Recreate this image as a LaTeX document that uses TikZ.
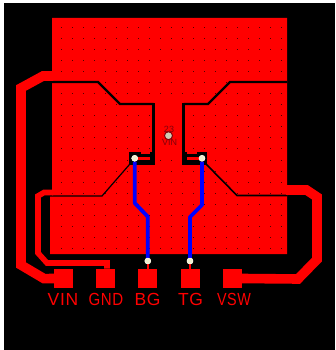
\documentclass[tikz,border=0pt]{standalone}
\usepackage{fontspec}
\setmainfont{Liberation Sans}
\newfontfamily\padfont[LetterSpace=4]{Liberation Sans}
\definecolor{pcbred}{RGB}{255,0,0}
\definecolor{pcbblue}{RGB}{0,0,255}
\definecolor{pcbdark}{RGB}{130,0,10}
\definecolor{viapale}{RGB}{240,238,205}
\tikzset{
  pad/.style={fill=pcbred,minimum width=19pt,minimum height=19pt,inner sep=0pt},
  padlabel/.style={text=pcbred,font=\padfont\fontsize{17.5}{17.5}\selectfont,anchor=center,inner sep=0pt},
  trace/.style={draw=pcbred,line join=miter},
  gap/.style={draw=black,line width=2.2pt,line join=miter},
  bottomtrace/.style={draw=pcbblue,line width=3.8pt,line join=round},
  via/.style={circle,fill=viapale,draw=viapale!60!white,line width=.8pt,minimum size=5.6pt,inner sep=0pt},
  partlabel/.style={text=pcbdark,font=\fontsize{9}{9}\selectfont,inner sep=0pt},
}
\begin{document}
\begin{tikzpicture}[x=1pt,y=-1pt]
\useasboundingbox (0,0) rectangle (335,350);
\fill[white] (0,0) rectangle (335,350);
\fill[black] (3.5,3) rectangle (335,350);
%%%% plane
\fill[pcbred] (52,18) -- (287,18) -- (287,254) -- (50,254) -- (50,196) -- (52,196) -- cycle;
\foreach \i in {0,...,20}
\foreach \j in {0,...,20}
\fill[black!70!red] ({61+11.03*\i-.4},{27.3+11.05*\j-.4}) rectangle +(.8,.8);
%%%% channel between the two gaps has no dots
\fill[pcbred] (156,98) rectangle (182,152);
%%%% gaps
\draw[gap] (52,82) -- (98,82) -- (120,104) -- (153.5,104);
\draw[gap] (287,82) -- (230,82) -- (208,104) -- (183.5,104);
\fill[black] (152,103) rectangle (155,165);
\fill[black] (182,103) rectangle (185,165);
\fill[black] (129,152) rectangle (155,165);
\fill[black] (182,152) rectangle (206.7,165);
\draw[black,line width=1.2pt] (129.5,164.5) -- (102,196) -- (50,196);
\draw[black,line width=1.6pt] (206.5,164.5) -- (237,195.5) -- (287,195.5);
%%%% strips in the notches
\fill[pcbred] (141,152) rectangle (150,154.4);
\fill[pcbred] (187,152) rectangle (196.5,154.4);
\fill[pcbred] (136,157.3) rectangle (150,160);
\fill[pcbred] (187,157.3) rectangle (201,160);
%%%% pads
\node[pad] (vin) at (63.4,278.4) {};
\node[pad] (gnd) at (105.5,278.4) {};
\node[pad] (bg) at (147.8,278.4) {};
\node[pad] (tg) at (190,278.4) {};
\node[pad] (vsw) at (232,278.4) {};
\node[padlabel] (vinlabel) at (63,299.5) {VIN};
\node[padlabel] (gndlabel) at (106,299.5) {\scalebox{.86}[1]{GND}};
\node[padlabel] (bglabel) at (147.5,299.5) {BG};
\node[padlabel] (tglabel) at (190.5,299.5) {TG};
\node[padlabel] (vswlabel) at (234,299.5) {\scalebox{.82}[1]{VSW}};
%%%% top traces
\coordinate (vintop) at (53,76);
\coordinate (gndtop) at (53,192.5);
\coordinate (vswtop) at (286,190);
\draw[trace,line width=9.6pt] (vin.center) -- (44,278.6) -- (21,265) -- (21,88) -- (43,76) -- (vintop);
\draw[trace,line width=5.6pt] (gnd.north -| 107,0) -- (107,263) -- (47,263) -- (38,253) -- (38,196) -- (44,192.5) -- (gndtop);
\draw[trace,line width=9.6pt] (vsw.center) -- (298,279) -- (317,259.5) -- (317,197) -- (306.5,190) -- (vswtop);
%%%% vias and bottom traces
\node[via] (viabg) at (147.8,261) {};
\node[via] (viatg) at (190,261) {};
\node[via] (viabgtop) at (134.7,158.3) {};
\node[via] (viatgtop) at (202,158.3) {};
\draw[pcbred,line width=2.6pt] (viabg) -- (bg.north);
\draw[pcbred,line width=2.6pt] (viatg) -- (tg.north);
\draw[bottomtrace] (viabgtop) -- (134.7,203) -- (147.8,216.7) -- (viabg);
\draw[bottomtrace] (viatgtop) -- (202,205) -- (190,217) -- (viatg);
\node[via] at (viabg) {};
\node[via] at (viatg) {};
\node[via] at (viabgtop) {};
\node[via] at (viatgtop) {};
%%%% part in the middle
\node[partlabel] (partnum) at (169,129.5) {23};
\node[partlabel] (partname) at (169.5,142) {VIN};
\node[circle,fill=viapale!70!gray,draw=pcbdark,line width=1pt,minimum size=8pt,inner sep=0pt] (partvia) at (168.5,135.7) {};
\end{tikzpicture}
\end{document}
